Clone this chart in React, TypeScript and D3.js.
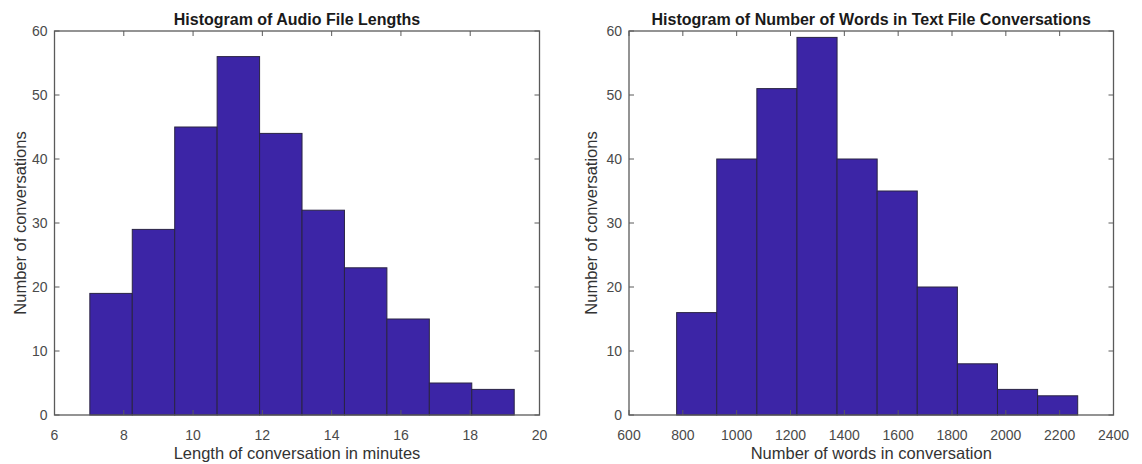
import React from "react";
import * as d3 from "d3";

// audio lengths (minutes)
const audioStart = 7.02;
const audioBinWidth = 1.225;
const audioCounts = [19, 29, 45, 56, 44, 32, 23, 15, 5, 4];
const audioTicks = [6, 8, 10, 12, 14, 16, 18, 20];

// words per text conversation
const wordsStart = 777;
const wordsBinWidth = 149;
const wordsCounts = [16, 40, 51, 59, 40, 35, 20, 8, 4, 3];
const wordsTicks = [600, 800, 1000, 1200, 1400, 1600, 1800, 2000, 2200, 2400];

const yTicks = [0, 10, 20, 30, 40, 50, 60];

const W = 1142;
const H = 464;
const top = 31;
const bottom = 415;
const barFill = "#3c25a6";
const barStroke = "#2a2444";
const axisColor = "#5a5a5a";
const font = "'Liberation Sans', Arial, sans-serif";

type PanelProps = {
  x0: number;
  x1: number;
  domain: [number, number];
  ticks: number[];
  start: number;
  binWidth: number;
  counts: number[];
  title: string;
  xLabel: string;
  yLabelX: number;
};

const Panel = ({ x0, x1, domain, ticks, start, binWidth, counts, title, xLabel, yLabelX }: PanelProps) => {
  const x = d3.scaleLinear().domain(domain).range([x0, x1]);
  const y = d3.scaleLinear().domain([0, 60]).range([bottom, top]);
  const tickLen = 5;
  const cx = (x0 + x1) / 2;

  return (
    <g>
      {counts.map((c, i) => {
        const a = x(start + i * binWidth);
        const b = x(start + (i + 1) * binWidth);
        return (
          <rect
            key={i}
            x={a}
            y={y(c)}
            width={b - a}
            height={y(0) - y(c)}
            fill={barFill}
            stroke={barStroke}
            strokeWidth={1}
          />
        );
      })}
      {/* box */}
      <rect x={x0} y={top} width={x1 - x0} height={bottom - top} fill="none" stroke={axisColor} strokeWidth={1.3} />
      {/* x ticks, bottom and top */}
      {ticks.map((t) => (
        <g key={"x" + t}>
          <line x1={x(t)} x2={x(t)} y1={bottom} y2={bottom - tickLen} stroke={axisColor} />
          <line x1={x(t)} x2={x(t)} y1={top} y2={top + tickLen} stroke={axisColor} />
          <text x={x(t)} y={440} textAnchor="middle" fontSize={14} fill="#4a4a4a" fontFamily={font}>
            {t}
          </text>
        </g>
      ))}
      {/* y ticks, left and right */}
      {yTicks.map((t) => (
        <g key={"y" + t}>
          <line x1={x0} x2={x0 + tickLen} y1={y(t)} y2={y(t)} stroke={axisColor} />
          <line x1={x1} x2={x1 - tickLen} y1={y(t)} y2={y(t)} stroke={axisColor} />
          <text x={x0 - 7} y={y(t) + 5} textAnchor="end" fontSize={14} fill="#4a4a4a" fontFamily={font}>
            {t}
          </text>
        </g>
      ))}
      <text x={cx} y={25} textAnchor="middle" fontSize={16} fontWeight="bold" fill="#1a1a1a" fontFamily={font}>
        {title}
      </text>
      <text x={cx} y={459} textAnchor="middle" fontSize={16.5} fill="#333" fontFamily={font}>
        {xLabel}
      </text>
      <text
        transform={`translate(${yLabelX},${(top + bottom) / 2}) rotate(-90)`}
        textAnchor="middle"
        fontSize={16.5}
        fill="#333"
        fontFamily={font}
      >
        Number of conversations
      </text>
    </g>
  );
};

export default function App() {
  return (
    <svg
      width={W}
      height={H}
      style={{ position: "absolute", left: 0, top: 0, background: "#fff" }}
    >
      <Panel
        x0={54.5}
        x1={539.5}
        domain={[6, 20]}
        ticks={audioTicks}
        start={audioStart}
        binWidth={audioBinWidth}
        counts={audioCounts}
        title="Histogram of Audio File Lengths"
        xLabel="Length of conversation in minutes"
        yLabelX={26}
      />
      <Panel
        x0={629}
        x1={1113.5}
        domain={[600, 2400]}
        ticks={wordsTicks}
        start={wordsStart}
        binWidth={wordsBinWidth}
        counts={wordsCounts}
        title="Histogram of Number of Words in Text File Conversations"
        xLabel="Number of words in conversation"
        yLabelX={597}
      />
    </svg>
  );
}
